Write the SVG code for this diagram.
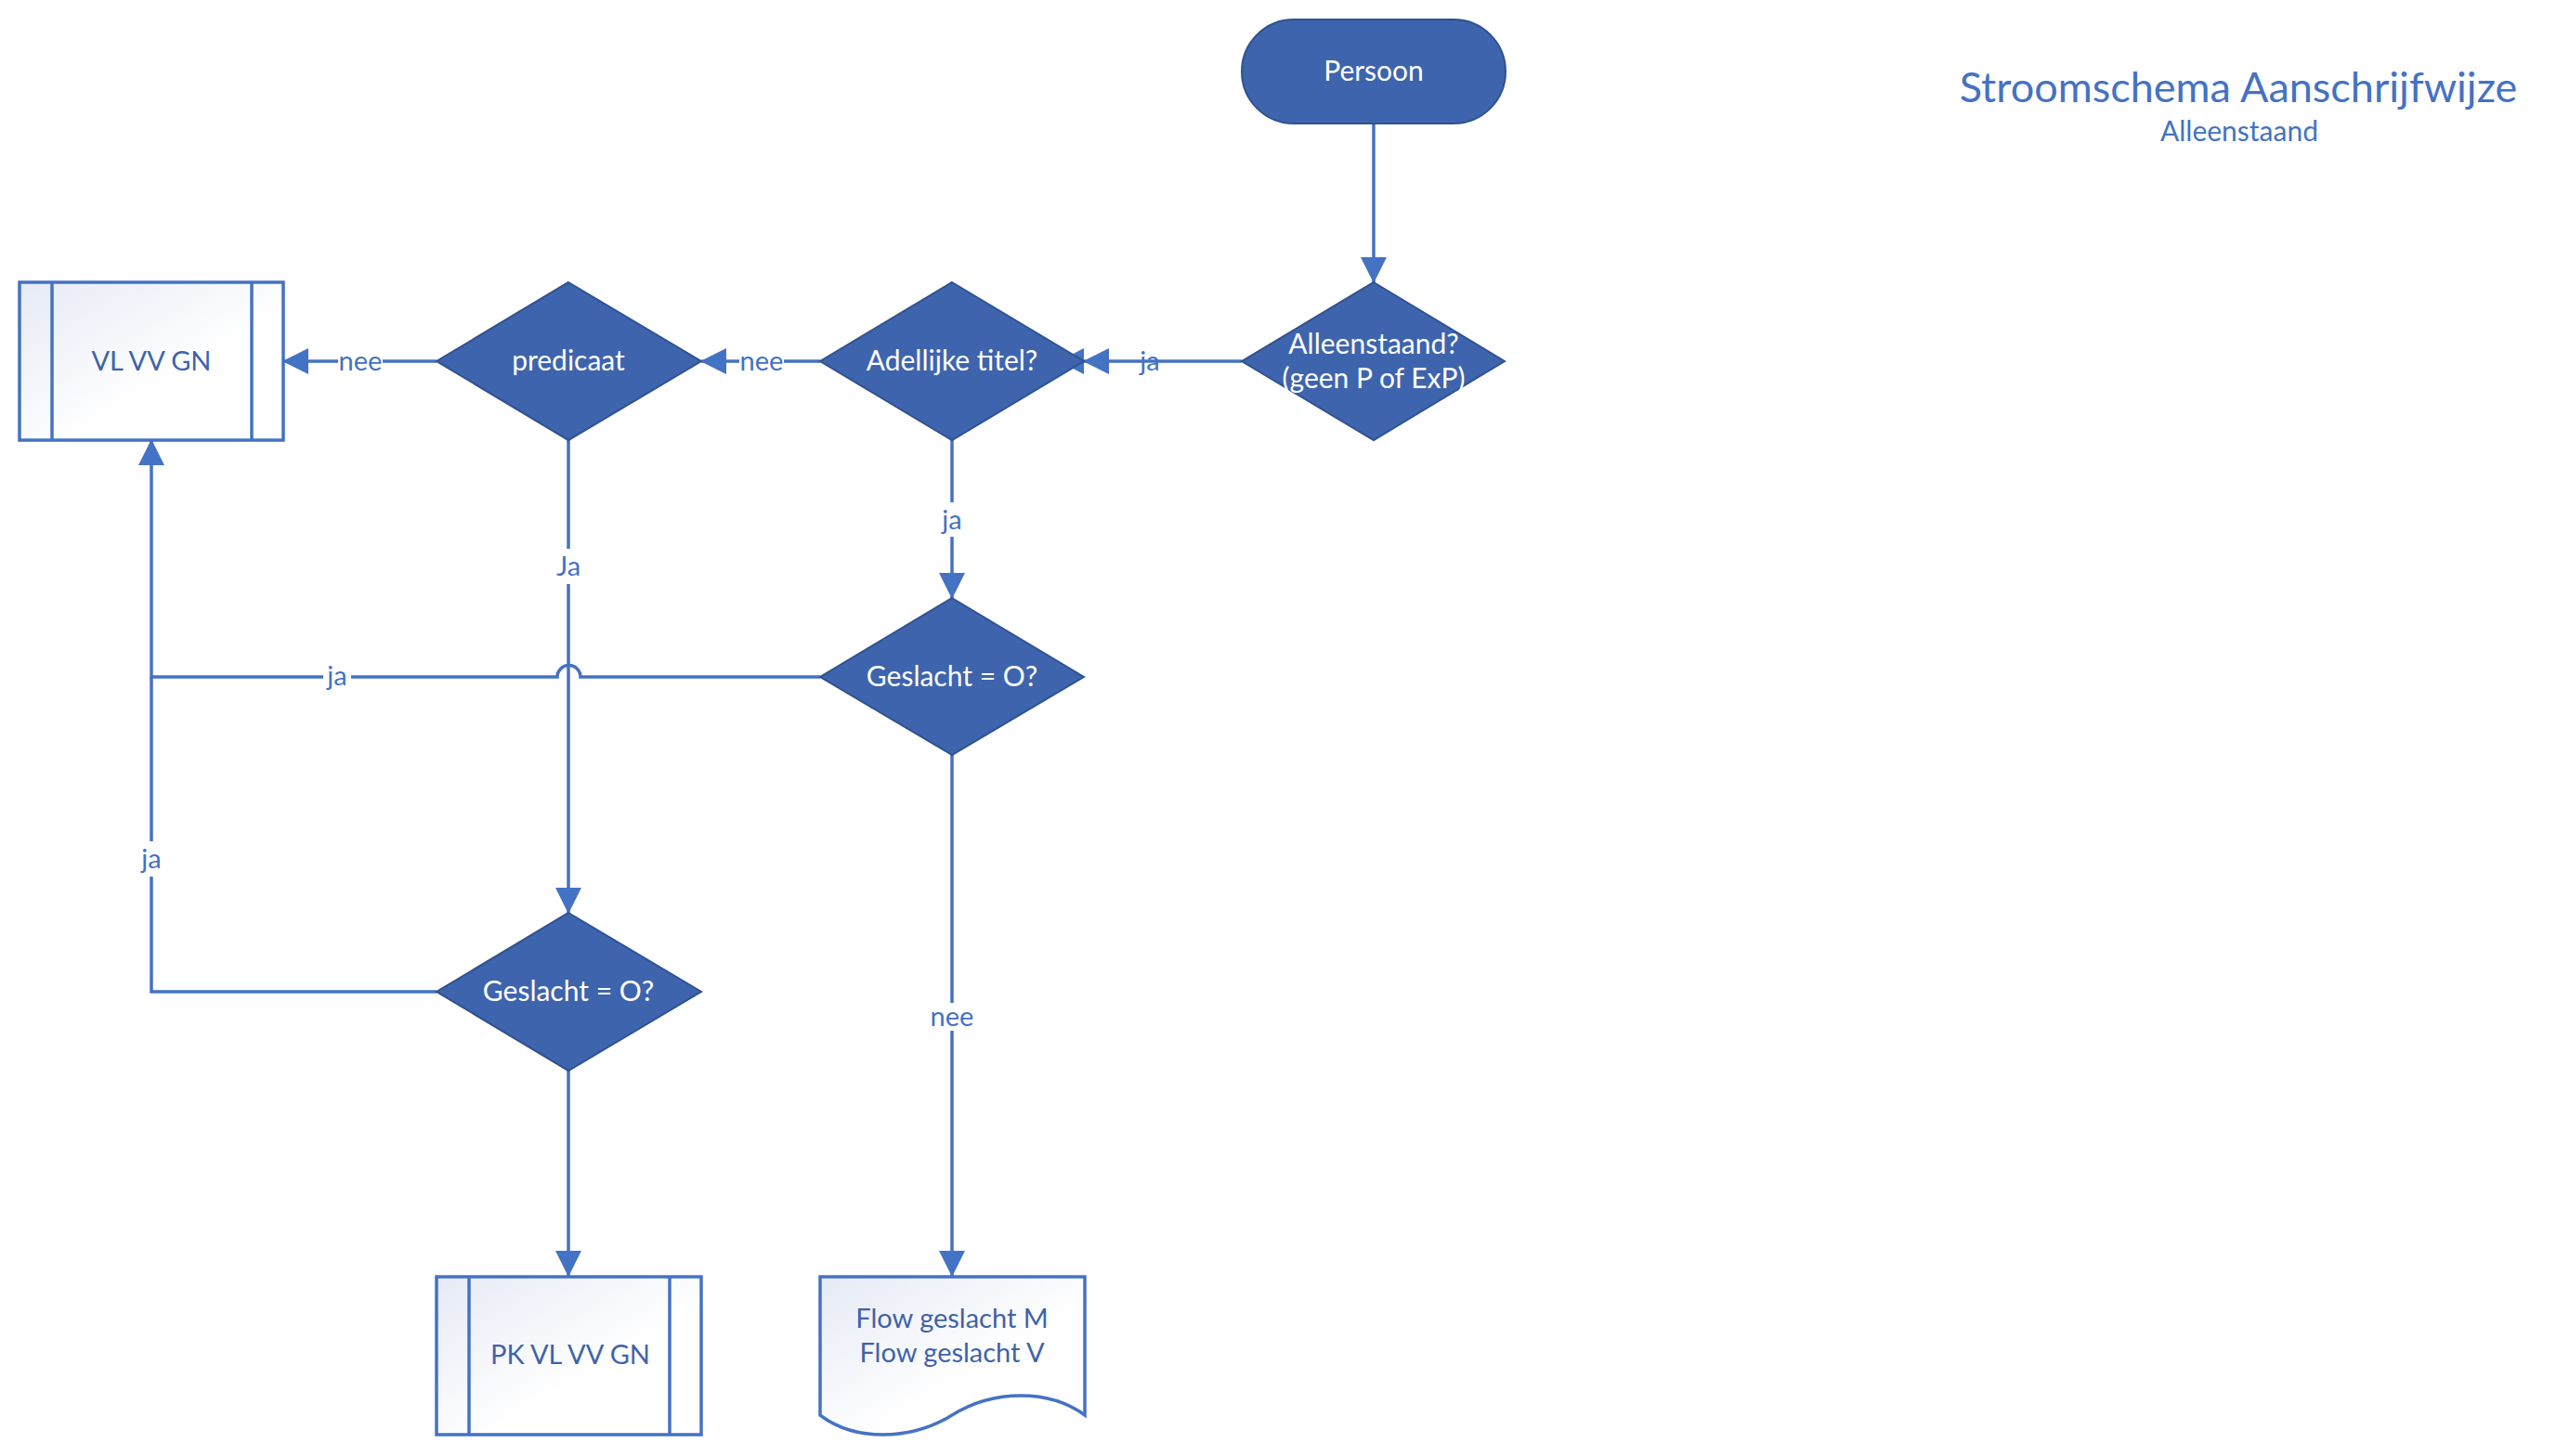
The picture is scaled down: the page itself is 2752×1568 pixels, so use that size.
<svg xmlns="http://www.w3.org/2000/svg" width="2752" height="1568" viewBox="0 0 2752 1568">
<defs>
<linearGradient id="boxg" x1="0" y1="0" x2="1" y2="1">
<stop offset="0" stop-color="#E6EAF5"/>
<stop offset="0.6" stop-color="#FFFFFF"/>
<stop offset="1" stop-color="#FFFFFF"/>
</linearGradient>
<marker id="arr" viewBox="0 0 28 28" refX="27" refY="14" markerWidth="28" markerHeight="28" markerUnits="userSpaceOnUse" orient="auto">
<path d="M0,0 L28,14 L0,28 z" fill="#4472C4"/>
</marker>
<style>
.dec{fill:#3E64AD;stroke:#2F528F;stroke-width:2}
.box{fill:url(#boxg);stroke:#4472C4;stroke-width:3.5}
.con{fill:none;stroke:#4472C4;stroke-width:3.5}
.wt{font-family:Lato,"Liberation Sans",sans-serif;font-size:30px;fill:#FFFFFF;text-anchor:middle}
.bt{font-family:Lato,"Liberation Sans",sans-serif;font-size:29px;fill:#3F62AA;text-anchor:middle}
.lb{font-family:Lato,"Liberation Sans",sans-serif;font-size:29px;fill:#4472C4;text-anchor:middle}
.lbg{fill:#FFFFFF}
</style>
</defs>
<rect width="2752" height="1568" fill="#FFFFFF"/>

<g id="connectors">
<path class="con" d="M1479,133 V304" marker-end="url(#arr)"/>
<path class="con" d="M1337,389 H1167" marker-end="url(#arr)"/>
<path d="M1167,375 L1140,389 L1167,403 z" fill="#4472C4"/>
<path class="con" d="M883,389 H755" marker-end="url(#arr)"/>
<path class="con" d="M470,389 H305" marker-end="url(#arr)"/>
<path class="con" d="M1025,474 V644" marker-end="url(#arr)"/>
<path class="con" d="M612,474 V983" marker-end="url(#arr)"/>
<path class="con" d="M883,729 H625 A12.5,12.5 0 0 0 600,729 H163 V474" marker-end="url(#arr)"/>
<path class="con" d="M470,1068 H163 V729"/>
<path class="con" d="M1025,813 V1374" marker-end="url(#arr)"/>
<path class="con" d="M612,1153 V1374" marker-end="url(#arr)"/>
</g>

<g id="labels">
<text class="lb" x="1238" y="399">ja</text>
<rect class="lbg" x="796" y="374" width="48" height="30"/>
<text class="lb" x="820" y="399">nee</text>
<rect class="lbg" x="364" y="374" width="48" height="30"/>
<text class="lb" x="388" y="399">nee</text>
<rect class="lbg" x="1010" y="541" width="30" height="37"/>
<text class="lb" x="1025" y="570">ja</text>
<rect class="lbg" x="597" y="591" width="30" height="38"/>
<text class="lb" x="612" y="620">Ja</text>
<rect class="lbg" x="348" y="714" width="30" height="30"/>
<text class="lb" x="363" y="738">ja</text>
<rect class="lbg" x="148" y="906" width="30" height="38"/>
<text class="lb" x="163" y="935">ja</text>
<rect class="lbg" x="1001" y="1080" width="48" height="30"/>
<text class="lb" x="1025" y="1105">nee</text>
</g>

<g id="persoon">
<rect x="1337" y="21" width="284" height="112" rx="56" ry="56" class="dec"/>
<text class="wt" x="1479" y="87">Persoon</text>
</g>

<g id="alleenstaand">
<polygon class="dec" points="1479,304 1620,389 1479,474 1337,389"/>
<text class="wt" x="1479" y="381">Alleenstaand?</text>
<text class="wt" x="1479" y="418">(geen P of ExP)</text>
</g>

<g id="adellijke">
<polygon class="dec" points="1025,304 1167,389 1025,474 883,389"/>
<text class="wt" x="1025" y="399">Adellijke titel?</text>
</g>

<g id="predicaat">
<polygon class="dec" points="612,304 755,389 612,474 470,389"/>
<text class="wt" x="612" y="399">predicaat</text>
</g>

<g id="vlvvgn">
<rect class="box" x="21" y="304" width="284" height="170"/>
<line class="con" x1="56" y1="304" x2="56" y2="474"/>
<line class="con" x1="271" y1="304" x2="271" y2="474"/>
<text class="bt" x="163" y="399">VL VV GN</text>
</g>

<g id="geslacht1">
<polygon class="dec" points="1025,644 1167,729 1025,813 883,729"/>
<text class="wt" x="1025" y="739">Geslacht = O?</text>
</g>

<g id="geslacht2">
<polygon class="dec" points="612,983 755,1068 612,1153 470,1068"/>
<text class="wt" x="612" y="1078">Geslacht = O?</text>
</g>

<g id="pkvlvvgn">
<rect class="box" x="470" y="1375" width="285" height="170"/>
<line class="con" x1="505" y1="1375" x2="505" y2="1545"/>
<line class="con" x1="721" y1="1375" x2="721" y2="1545"/>
<text class="bt" x="614" y="1469">PK VL VV GN</text>
</g>

<g id="flow">
<path class="box" d="M883,1375 H1168 V1524 C1130,1496 1070,1496 1025,1524 C980,1552 920,1552 883,1524 Z"/>
<text class="bt" x="1025" y="1430">Flow geslacht M</text>
<text class="bt" x="1025" y="1467">Flow geslacht V</text>
</g>

<g id="title">
<text x="2410" y="110" font-family="Lato,'Liberation Sans',sans-serif" font-size="45" fill="#4472C4" text-anchor="middle">Stroomschema Aanschrijfwijze</text>
<text x="2411" y="152" font-family="Lato,'Liberation Sans',sans-serif" font-size="30" fill="#4472C4" text-anchor="middle">Alleenstaand</text>
</g>
</svg>
